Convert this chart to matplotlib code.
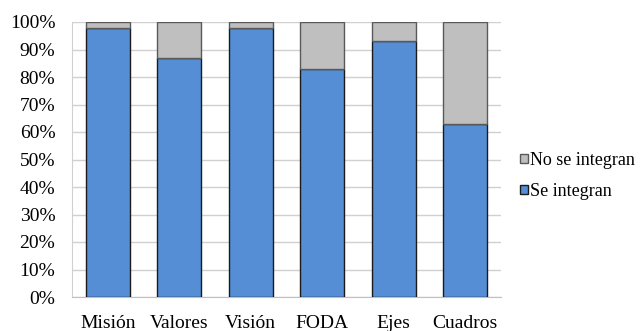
import matplotlib.pyplot as plt
from matplotlib.ticker import PercentFormatter
from matplotlib.patches import Patch
import numpy as np

plt.rcParams['font.family'] = ['Liberation Serif', 'DejaVu Serif']

categories = ['Misión', 'Valores', 'Visión', 'FODA', 'Ejes', 'Cuadros']
se_integran = [98, 87, 98, 83, 93, 63]
no_se_integran = [2, 13, 2, 17, 7, 37]

blue = '#558ED5'
grey = '#BFBFBF'

fig = plt.figure(figsize=(6.42, 3.31), dpi=100)
ax = fig.add_axes([72/642, 34/331, 429/642, 275/331])

x = np.arange(len(categories))
ax.bar(x, se_integran, width=0.62, color=blue, edgecolor='#1a1a1a', linewidth=1.0, zorder=3)
ax.bar(x, no_se_integran, width=0.62, bottom=se_integran, color=grey,
       edgecolor='#595959', linewidth=1.0, zorder=3)

ax.set_xlim(-0.5, len(categories) - 0.5)
ax.set_ylim(0, 100)
ax.set_yticks(np.arange(0, 101, 10))
ax.yaxis.set_major_formatter(PercentFormatter(decimals=0))
ax.set_xticks(x)
ax.set_xticklabels(categories)
ax.tick_params(axis='y', length=0, labelsize=14, pad=12)
ax.tick_params(axis='x', length=0, labelsize=14, pad=13)
ax.grid(axis='y', color='#D0D0D0', linewidth=1.0, zorder=0)

for s in ['top', 'right']:
    ax.spines[s].set_visible(False)
ax.spines['bottom'].set_color('#BFBFBF')
ax.spines['left'].set_color('#D0D0D0')

handles = [Patch(facecolor=grey, edgecolor='#595959', label='No se integran'),
           Patch(facecolor=blue, edgecolor='#1a1a1a', label='Se integran')]
fig.legend(handles=handles, loc='center left', bbox_to_anchor=(520/642, 1 - 176/331),
           frameon=False, fontsize=13, handlelength=0.42, handleheight=0.42,
           handletextpad=0.15, labelspacing=0.75, borderpad=0, borderaxespad=0)

fig.savefig('out.png', dpi=100)
